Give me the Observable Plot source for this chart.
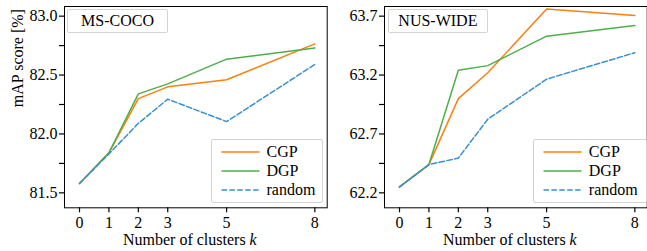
<!DOCTYPE html>
<html>
<head>
<meta charset="utf-8">
<script src="https://cdn.jsdelivr.net/npm/d3@7"></script>
<script src="https://cdn.jsdelivr.net/npm/@observablehq/plot@0.6"></script>
<style>
  html, body { margin: 0; padding: 0; background: #fff; overflow: hidden; }
  #wrap { position: relative; width: 647px; height: 251px; overflow: hidden; }
  #wrap, #wrap *, #wrap svg text, #wrap svg g { font-family: 'Liberation Serif', 'Times New Roman', Times, 'DejaVu Serif', serif !important; }
  .panel { position: absolute; top: 0; }
  .tbox { position: absolute; box-sizing: border-box; border: 1px solid #d4d4d4; border-radius: 2px; background: #fff;
          font-size: 16px; line-height: 22px; text-align: center; color: #000; }
  .legend { position: absolute; box-sizing: border-box; border: 1px solid #d4d4d4; border-radius: 2px; background: rgba(255,255,255,0.85);
          font-size: 16px; color: #000; }
  .row { position: absolute; height: 19px; line-height: 19px; }
  .row svg { position: absolute; left: 0; top: 0; }
  .row span { position: absolute; white-space: nowrap; }
</style>
</head>
<body>
<div id="wrap"></div>
<script>
const kValues = [0, 1, 2, 3, 5, 8];
const xTicks = [0, 1, 2, 3, 5, 8];

const cocoCGP    = [81.58, 81.84, 82.30, 82.40, 82.46, 82.765];
const cocoDGP    = [81.58, 81.84, 82.34, 82.425, 82.635, 82.73];
const cocoRandom = [81.58, 81.83, 82.09, 82.295, 82.105, 82.59];

const nusCGP    = [62.25, 62.44, 63.00, 63.22, 63.76, 63.705];
const nusDGP    = [62.25, 62.44, 63.24, 63.28, 63.53, 63.62];
const nusRandom = [62.25, 62.44, 62.495, 62.825, 63.165, 63.39];

const cocoYTicks = [81.5, 82.0, 82.5, 83.0];
const cocoYMinor = [81.75, 82.25, 82.75];
const nusYTicks = [62.2, 62.7, 63.2, 63.7];
const nusYMinor = [62.45, 62.95, 63.45];

const seriesNames = ["CGP", "DGP", "random"];
const seriesColors = ["#ff7f0e", "#4daf4a", "#3a8fd0"];
const seriesDash = [null, null, "5.5,2.4"];

const titles = ["MS-COCO", "NUS-WIDE"];
const yLabel = "mAP score [%]";
const xLabel = "Number of clusters ";
const xLabelItalic = "k";

const FONT = "'Liberation Serif', 'Times New Roman', Times, 'DejaVu Serif', serif";

function toRows(arrs) {
  const rows = [];
  arrs.forEach((vals, s) => vals.forEach((v, i) => rows.push({series: seriesNames[s], k: kValues[i], v})));
  return rows;
}

function panel({data, yDomain, yTicks, yMinor, showYLabel}) {
  const marks = [
    Plot.frame({stroke: "black", strokeWidth: 1}),
    Plot.axisX({ticks: xTicks, tickSize: 5, tickPadding: 4, strokeWidth: 1.2, tickFormat: d => String(d), label: null, fontSize: 16}),
    Plot.axisY({ticks: yTicks, tickSize: 5, tickPadding: 2, strokeWidth: 1.2, tickFormat: d => d.toFixed(1), label: null, fontSize: 16}),
    Plot.axisY({ticks: yMinor, tickSize: 5, tickPadding: 2, strokeWidth: 1.2, tickFormat: () => "", label: null})
  ];
  seriesNames.forEach((name, i) => {
    marks.push(Plot.line(data.filter(d => d.series === name), {
      x: "k", y: "v", stroke: seriesColors[i], strokeWidth: 1.5,
      strokeDasharray: seriesDash[i] || undefined, curve: "linear"
    }));
  });
  marks.push(Plot.text([xLabel], {text: d => d, frameAnchor: "bottom", dy: 37.5, dx: -6, fontSize: 16}));
  if (showYLabel) {
    marks.push(Plot.text([yLabel], {text: d => d, frameAnchor: "left", rotate: -90, dx: -47, fontSize: 16}));
  }
  const svg = Plot.plot({
    width: 330,
    height: 251,
    marginLeft: 64,
    marginRight: 3.3,
    marginTop: 6,
    marginBottom: 43.7,
    x: {domain: [-0.51, 8.42]},
    y: {domain: yDomain},
    style: {fontFamily: FONT, fontSize: "16px", color: "black", background: "transparent", overflow: "visible"},
    marks
  });
  d3.select(svg).selectAll("text").filter(function() { return this.textContent === xLabel; }).each(function() {
    const t = d3.select(this);
    t.text(xLabel);
    t.append("tspan").attr("font-style", "italic").text(xLabelItalic);
  });
  return svg;
}

const wrap = document.getElementById("wrap");

const left = panel({
  data: toRows([cocoCGP, cocoDGP, cocoRandom]),
  yDomain: [81.373, 83.082], yTicks: cocoYTicks, yMinor: cocoYMinor, showYLabel: true
});
left.classList.add("panel");
left.style.left = "0px";
wrap.appendChild(left);

const right = panel({
  data: toRows([nusCGP, nusDGP, nusRandom]),
  yDomain: [62.073, 63.782], yTicks: nusYTicks, yMinor: nusYMinor, showYLabel: false
});
right.classList.add("panel");
right.style.left = "320.3px";
wrap.appendChild(right);

function addTitle(text, x) {
  const d = document.createElement("div");
  d.className = "tbox";
  d.style.left = x + "px"; d.style.top = "9.3px"; d.style.width = "100.4px"; d.style.height = "24px";
  d.textContent = text;
  wrap.appendChild(d);
}
addTitle(titles[0], 67.3);
addTitle(titles[1], 387.7);

function addLegend(x, w) {
  const d = document.createElement("div");
  d.className = "legend";
  d.style.left = x + "px"; d.style.top = "139.3px"; d.style.width = w + "px"; d.style.height = "63.4px";
  const rowTops = [1.5, 20.5, 40];
  seriesNames.forEach((name, i) => {
    const r = document.createElement("div");
    r.className = "row";
    r.style.left = "9px"; r.style.top = rowTops[i] + "px"; r.style.width = (w - 12) + "px";
    const s = d3.create("svg").attr("width", 40).attr("height", 19);
    s.append("line").attr("x1", 0.5).attr("x2", 38.5).attr("y1", 10).attr("y2", 10)
      .attr("stroke", seriesColors[i]).attr("stroke-width", 1.5)
      .attr("stroke-dasharray", seriesDash[i] || null);
    r.appendChild(s.node());
    const sp = document.createElement("span");
    sp.style.left = "45.5px"; sp.style.top = "0px";
    sp.textContent = name;
    r.appendChild(sp);
    d.appendChild(r);
  });
  wrap.appendChild(d);
}
addLegend(211, 112);
addLegend(533.3, 114);
</script>
</body>
</html>
